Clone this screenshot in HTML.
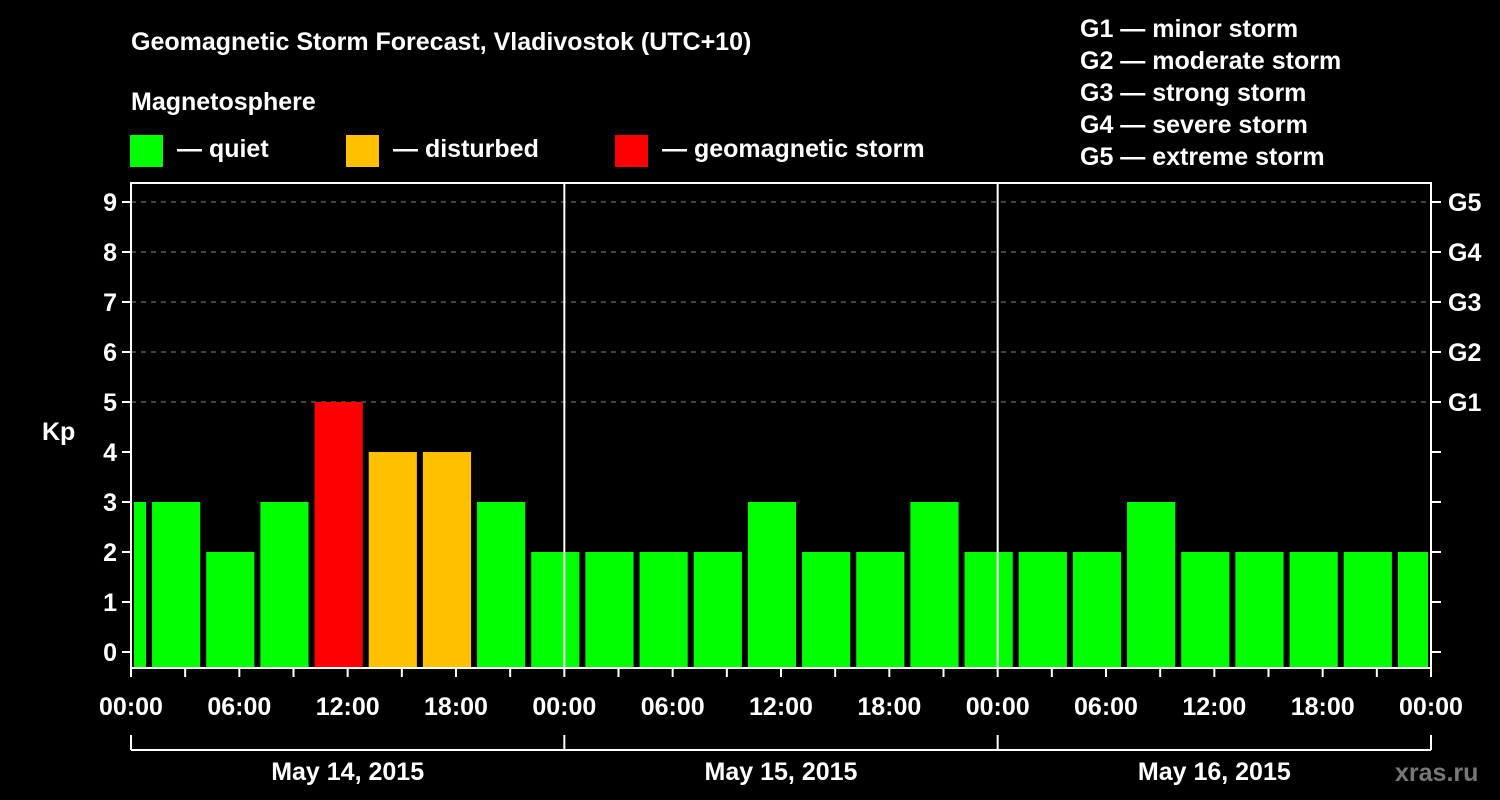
<!DOCTYPE html>
<html><head><meta charset="utf-8"><style>
html,body{margin:0;padding:0;background:#000;}
svg{display:block;font-family:"Liberation Sans",Arial,sans-serif;font-weight:bold;}
</style></head><body>
<svg id="chart" width="1500" height="800" viewBox="0 0 1500 800">
<rect x="0" y="0" width="1500" height="800" fill="#000"/>
<text x="131" y="50" fill="#fff" font-size="25">Geomagnetic Storm Forecast, Vladivostok (UTC+10)</text>
<text x="131" y="110" fill="#fff" font-size="25">Magnetosphere</text>
<g><rect x="130" y="135" width="33" height="32" fill="#00ff00"/><text x="177" y="157" fill="#fff" font-size="25">— quiet</text></g>
<g><rect x="346" y="135" width="33" height="32" fill="#ffc000"/><text x="393" y="157" fill="#fff" font-size="25">— disturbed</text></g>
<g><rect x="615" y="135" width="33" height="32" fill="#ff0000"/><text x="662" y="157" fill="#fff" font-size="25">— geomagnetic storm</text></g>
<g fill="#fff" font-size="25">
<text x="1080" y="37">G1 — minor storm</text>
<text x="1080" y="69">G2 — moderate storm</text>
<text x="1080" y="101">G3 — strong storm</text>
<text x="1080" y="133">G4 — severe storm</text>
<text x="1080" y="165">G5 — extreme storm</text>
</g>
<text x="42" y="440" fill="#fff" font-size="25">Kp</text>
<text x="1395" y="781" fill="#777" font-size="25">xras.ru</text>
<g id="plot"></g>
</svg>
<script>
const kpValues = [3,3,2,3,5,4,4,3,2,2,2,2,3,2,2,3,2,2,2,3,2,2,2,2,2];
const yTicks = [0,1,2,3,4,5,6,7,8,9];
const gLabels = ["G1","G2","G3","G4","G5"];
const xTickLabels = ["00:00","06:00","12:00","18:00","00:00","06:00","12:00","18:00","00:00","06:00","12:00","18:00","00:00"];
const dayLabels = ["May 14, 2015","May 15, 2015","May 16, 2015"];
const startHourOffset = -2;

const NS="http://www.w3.org/2000/svg";
const L=131,R=1431,T=183,B=668;
const x=h=>L+h*(R-L)/72;
const y=v=>652-v*50;
const g=document.getElementById('plot');
function mk(tag,attrs,parent){const e=document.createElementNS(NS,tag);for(const k in attrs)e.setAttribute(k,attrs[k]);(parent||g).appendChild(e);return e;}
function color(v){return v>=5?'#ff0000':(v>=4?'#ffc000':'#00ff00');}

// grid lines 5..9
yTicks.filter(v=>v>=5).forEach(v=>{
  const l=mk('line',{x1:L,x2:R,y1:y(v),y2:y(v),stroke:'#888','stroke-width':1,'stroke-dasharray':'5,5'});
  
  
});
// bars
kpValues.forEach((v,i)=>{
  const h0=Math.max(0,startHourOffset+3*i),h1=Math.min(72,startHourOffset+3*i+3);
  const r=mk('rect',{x:x(h0)+3,y:y(v),width:x(h1)-x(h0)-6,height:B-y(v),fill:color(v)});
  
  
});
// day separators
[24,48].forEach(h=>{
  const l=mk('line',{x1:x(h),x2:x(h),y1:T,y2:B,stroke:'#fff','stroke-width':2});
  
  
});
// frame
const fr=mk('rect',{x:L,y:T,width:R-L,height:B-T,fill:'none',stroke:'#fff','stroke-width':2});


// y ticks and labels
yTicks.forEach(v=>{
  mk('line',{x1:L-9,x2:L,y1:y(v),y2:y(v),stroke:'#fff','stroke-width':2});
  mk('line',{x1:R,x2:R+10,y1:y(v),y2:y(v),stroke:'#fff','stroke-width':2});
  const t=mk('text',{x:L-14,y:y(v)+9,fill:'#fff','font-size':25,'text-anchor':'end'});
  t.textContent=v;
  
  
});
gLabels.forEach((s,i)=>{
  const t=mk('text',{x:R+17,y:y(5+i)+9,fill:'#fff','font-size':25});
  t.textContent=s;
  
  
});
// x ticks every 3h
for(let h=0;h<=72;h+=3){mk('line',{x1:x(h),x2:x(h),y1:B,y2:B+9,stroke:'#fff','stroke-width':2});}
xTickLabels.forEach((s,i)=>{
  const t=mk('text',{x:x(i*6),y:715,fill:'#fff','font-size':25,'text-anchor':'middle'});
  t.textContent=s;
  
  
});
// date bracket
mk('line',{x1:x(0),x2:x(72),y1:750,y2:750,stroke:'#fff','stroke-width':2});
[0,24,48,72].forEach(h=>mk('line',{x1:x(h),x2:x(h),y1:735,y2:750,stroke:'#fff','stroke-width':2}));
dayLabels.forEach((s,i)=>{
  const t=mk('text',{x:x(i*24+12),y:780,fill:'#fff','font-size':25,'text-anchor':'middle'});
  t.textContent=s;
  
  
});
</script>
</body></html>
